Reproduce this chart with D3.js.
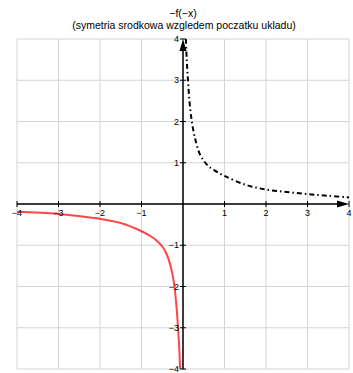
<!DOCTYPE html>
<html>
<head>
<meta charset="utf-8">
<script src="https://cdn.jsdelivr.net/npm/d3@7"></script>
<style>
  body { margin: 0; background: #fff; }
  text { font-family: "Liberation Sans", Arial, sans-serif; }
</style>
</head>
<body>
<div id="chart"></div>
<script>
// wartosci
const ticks = [-4, -3, -2, -1, 1, 2, 3, 4];
const fX = [0.07, 0.09, 0.12, 0.16, 0.22, 0.3, 0.4, 0.5, 0.6, 0.75, 1, 1.5, 2, 2.5, 3, 3.5, 4];
const fY = [4, 3.5, 3, 2.45, 1.95, 1.55, 1.22, 1.05, 0.93, 0.82, 0.68, 0.47, 0.35, 0.29, 0.24, 0.2, 0.16];
const gX = [-4, -3, -2, -1.5, -1, -0.75, -0.6, -0.5, -0.4, -0.3, -0.22, -0.16, -0.12, -0.09, -0.07];
const gY = [-0.19, -0.24, -0.36, -0.46, -0.66, -0.8, -0.92, -1.03, -1.2, -1.5, -1.9, -2.45, -3, -3.5, -4];

function renderChart() {
  const width = 353, height = 373;

  const svg = d3.select("#chart").append("svg")
    .attr("width", width)
    .attr("height", height);

  const x = d3.scaleLinear().domain([-4, 4]).range([17, 349]);
  const y = d3.scaleLinear().domain([-4, 4]).range([369, 39]);

  // tytul
  svg.append("text").attr("x", 183).attr("y", 17)
    .attr("text-anchor", "middle").style("font-size", "10.5px").text("\u2212f(\u2212x)");
  svg.append("text").attr("x", 184).attr("y", 29)
    .attr("text-anchor", "middle").style("font-size", "10.5px")
    .text("(symetria srodkowa wzgledem poczatku ukladu)");

  // siatka
  const gridVals = d3.range(-4, 5);
  svg.append("g").selectAll("line").data(gridVals).join("line")
    .attr("x1", d => x(d)).attr("x2", d => x(d))
    .attr("y1", y(-4)).attr("y2", y(4))
    .attr("stroke", "#d4d4d4").attr("stroke-width", 1);
  svg.append("g").selectAll("line").data(gridVals).join("line")
    .attr("y1", d => y(d)).attr("y2", d => y(d))
    .attr("x1", x(-4)).attr("x2", x(4))
    .attr("stroke", "#d4d4d4").attr("stroke-width", 1);

  // krzywe
  const red = d3.line().x((d, i) => x(gX[i])).y((d, i) => y(gY[i])).curve(d3.curveCatmullRom.alpha(0.5));
  svg.append("path").attr("d", red(gX))
    .attr("fill", "none").attr("stroke", "#ff3333").attr("stroke-opacity", 0.9)
    .attr("stroke-width", 2);

  const blk = d3.line().x((d, i) => x(fX[i])).y((d, i) => y(fY[i])).curve(d3.curveCatmullRom.alpha(0.5));
  svg.append("path").attr("d", blk(fX))
    .attr("fill", "none").attr("stroke", "#000")
    .attr("stroke-width", 2).attr("stroke-dasharray", "5,3,1.5,3");

  // osie
  const ax = svg.append("g");
  ax.append("line").attr("x1", x(-4)).attr("x2", x(4) - 4)
    .attr("y1", y(0)).attr("y2", y(0)).attr("stroke", "#000").attr("stroke-width", 1.5);
  ax.append("line").attr("x1", x(0)).attr("x2", x(0))
    .attr("y1", y(-4)).attr("y2", y(4) + 4).attr("stroke", "#000").attr("stroke-width", 1.5);
  ax.append("path")
    .attr("d", `M${x(4)},${y(0)} L${x(4) - 12},${y(0) - 3.5} L${x(4) - 12},${y(0) + 3.5} Z`)
    .attr("fill", "#000");
  ax.append("path")
    .attr("d", `M${x(0)},${y(4)} L${x(0) - 3.5},${y(4) + 12} L${x(0) + 3.5},${y(4) + 12} Z`)
    .attr("fill", "#000");

  // podzialki
  ax.selectAll(".tx").data(ticks).join("line")
    .attr("x1", d => x(d)).attr("x2", d => x(d))
    .attr("y1", y(0) - 3).attr("y2", y(0) + 3)
    .attr("stroke", "#000").attr("stroke-width", 1);
  ax.selectAll(".ty").data(ticks).join("line")
    .attr("y1", d => y(d)).attr("y2", d => y(d))
    .attr("x1", x(0) - 3).attr("x2", x(0) + 3)
    .attr("stroke", "#000").attr("stroke-width", 1);

  const fmt = d => (d < 0 ? "\u2212" : "") + Math.abs(d);
  ax.selectAll(".lx").data(ticks).join("text")
    .attr("x", d => x(d)).attr("y", y(0) + 12)
    .attr("text-anchor", "middle").style("font-size", "9px").text(fmt);
  ax.selectAll(".ly").data(ticks).join("text")
    .attr("x", x(0) - 4).attr("y", d => y(d) + 3)
    .attr("text-anchor", "end").style("font-size", "9px").text(fmt);
}

renderChart();
</script>
</body>
</html>
